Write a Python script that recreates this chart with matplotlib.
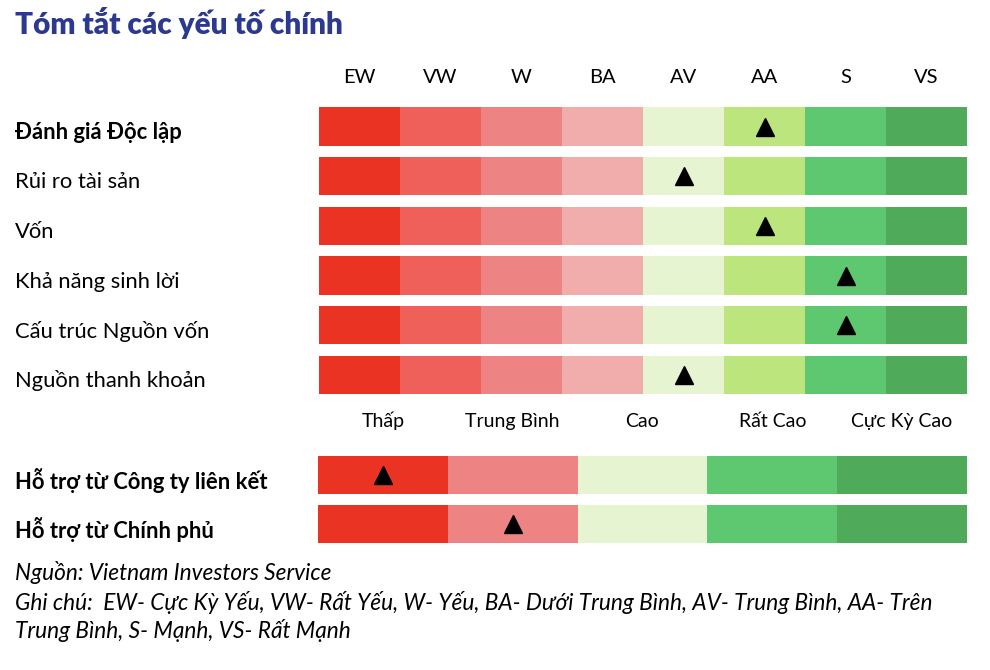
import matplotlib.pyplot as plt
from matplotlib import transforms

plt.rcParams['font.family'] = ['Lato', 'Open Sans', 'DejaVu Sans']

# data
grades = ["EW", "VW", "W", "BA", "AV", "AA", "S", "VS"]
grade_colors = ["#EA3323", "#EE6059", "#EE8384", "#F1ACAC",
                "#E6F4D2", "#BCE57E", "#5DC870", "#4FAB5A"]
factors = ["Đánh giá Độc lập", "Rủi ro tài sản", "Vốn",
           "Khả năng sinh lời", "Cấu trúc Nguồn vốn", "Nguồn thanh khoản"]
factor_bold = [True, False, False, False, False, False]
factor_score = [5, 4, 5, 6, 6, 4]   # index into grades

levels = ["Thấp", "Trung Bình", "Cao", "Rất Cao", "Cực Kỳ Cao"]
level_colors = ["#EA3323", "#EE8384", "#E6F4D2", "#5DC870", "#4FAB5A"]
support = ["Hỗ trợ từ Công ty liên kết", "Hỗ trợ từ Chính phủ"]
support_score = [0, 1]

title = "Tóm tắt các yếu tố chính"
notes = ["Nguồn: Vietnam Investors Service",
         "Ghi chú:  EW- Cực Kỳ Yếu, VW- Rất Yếu, W- Yếu, BA- Dưới Trung Bình, AV- Trung Bình, AA- Trên",
         "Trung Bình, S- Mạnh, VS- Rất Mạnh"]

W, H = 990, 670
fig = plt.figure(figsize=(W / 100, H / 100), dpi=100)


def box(x0, y0, x1, y1):
    return [x0 / W, 1 - y1 / H, (x1 - x0) / W, (y1 - y0) / H]


# top grid
ax = fig.add_axes(box(319, 101.7, 967, 399.8))
for i, f in enumerate(factors):
    for j, c in enumerate(grade_colors):
        ax.barh(i, 1, left=j, height=0.77, color=c, linewidth=0)
    ax.plot(factor_score[i] + 0.5, i, marker="^", color="black", markersize=13)
ax.set_xlim(0, len(grades))
ax.set_ylim(len(factors) - 0.5, -0.5)
ax.xaxis.tick_top()
ax.set_xticks([j + 0.5 for j in range(len(grades))])
ax.set_xticklabels(grades, fontsize=14.5)
ax.tick_params(axis="x", length=0, pad=11)
ax.set_yticks([])
for s in ax.spines.values():
    s.set_visible(False)
tr = transforms.blended_transform_factory(fig.transFigure, ax.transData)
for i, f in enumerate(factors):
    ax.text(15 / W, i + 0.12, f, transform=tr, fontsize=15.8, va="center", ha="left",
            fontweight="bold" if factor_bold[i] else "normal")

# bottom grid
ax2 = fig.add_axes(box(318, 450.5, 967, 548.5))
for i, f in enumerate(support):
    for j, c in enumerate(level_colors):
        ax2.barh(i, 1, left=j, height=0.78, color=c, linewidth=0)
    ax2.plot(support_score[i] + 0.5, i, marker="^", color="black", markersize=13)
ax2.set_xlim(0, len(levels))
ax2.set_ylim(len(support) - 0.5, -0.5)
ax2.xaxis.tick_top()
ax2.set_xticks([j + 0.5 for j in range(len(levels))])
ax2.set_xticklabels(levels, fontsize=14)
ax2.tick_params(axis="x", length=0, pad=15)
ax2.set_yticks([])
for s in ax2.spines.values():
    s.set_visible(False)
tr2 = transforms.blended_transform_factory(fig.transFigure, ax2.transData)
for i, f in enumerate(support):
    ax2.text(15 / W, i + 0.12, f, transform=tr2, fontsize=15.8, va="center", ha="left",
             fontweight="bold")

fig.text(15 / W, 1 - 23 / H, title, fontsize=21.3, fontweight="heavy",
         color="#2B3990", va="center", ha="left")

for k, line in enumerate(notes):
    fig.text(15 / W, 1 - (573 + 29 * k) / H, line, fontsize=16.3,
             style="italic", va="center", ha="left")

fig.savefig("out.png", dpi=100)
